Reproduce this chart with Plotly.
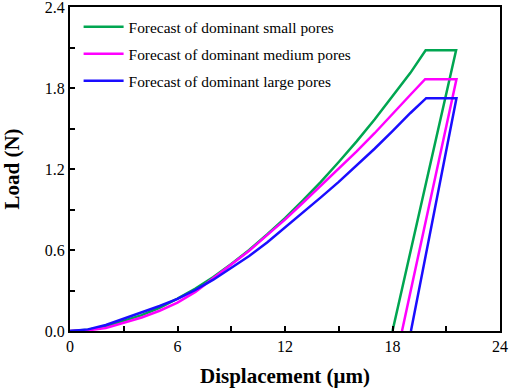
import plotly.graph_objects as go

# Loading branch (displacement in µm, load in N)
disp_load = [0, 1, 2, 3, 4, 5, 6, 7, 8, 9, 10, 11, 12, 13, 14, 15, 16, 17, 18, 19]
small_load = [0, 0.009, 0.033, 0.075, 0.118, 0.172, 0.24, 0.315, 0.40, 0.497, 0.60, 0.715, 0.836, 0.967, 1.105, 1.252, 1.405, 1.567, 1.735, 1.912]
medium_load = [0, 0.005, 0.022, 0.062, 0.10, 0.15, 0.21, 0.29, 0.39, 0.49, 0.595, 0.71, 0.825, 0.95, 1.075, 1.20, 1.33, 1.465, 1.61, 1.75]
large_load = [0, 0.012, 0.045, 0.092, 0.135, 0.185, 0.238, 0.305, 0.38, 0.465, 0.555, 0.655, 0.765, 0.875, 0.99, 1.105, 1.225, 1.35, 1.48, 1.615]

# Peak (start of hold), end of hold, residual displacement after unloading
small_peak = (19.85, 2.08)
medium_peak = (19.82, 1.865)
large_peak = (19.88, 1.725)
hold_end_disp = [21.55, 21.57, 21.57]
residual_disp = [18.0, 18.53, 19.03]

names = ["Forecast of dominant small pores",
         "Forecast of dominant medium pores",
         "Forecast of dominant large pores"]
colors = ["#00a651", "#ff00ff", "#1a0dff"]

fig = go.Figure()
series = [(small_load, small_peak), (medium_load, medium_peak), (large_load, large_peak)]
for i, (loads, peak) in enumerate(series):
    x = disp_load + [peak[0], hold_end_disp[i], residual_disp[i]]
    y = loads + [peak[1], peak[1], 0]
    fig.add_trace(go.Scatter(x=x, y=y, mode="lines", name=names[i],
                             line=dict(color=colors[i], width=2.5),
                             legendgroup=str(i)))

font_family = "Liberation Serif"
axis_common = dict(showgrid=False, zeroline=False, showline=True, linecolor="black", linewidth=2,
                   mirror=True, ticks="inside", ticklen=5, tickwidth=1.5, tickcolor="black",
                   automargin=False, ticklabeloverflow="allow",
                   tickfont=dict(family=font_family, size=16, color="black"))

fig.update_layout(
    width=510, height=389,
    margin=dict(l=70, r=10, t=7, b=58),
    paper_bgcolor="white", plot_bgcolor="white",
    xaxis=dict(range=[0, 24], tickvals=[0, 6, 12, 18, 24],
               minor=dict(tickvals=[3, 9, 15, 21], ticks="inside", ticklen=5, tickwidth=1.5, tickcolor="black"),
               title=dict(text="Displacement (μm)", font=dict(family=font_family, size=21, color="black", weight="bold"), standoff=14),
               **axis_common),
    yaxis=dict(range=[0, 2.4], tickvals=[0, 0.6, 1.2, 1.8, 2.4], ticktext=["0.0", "0.6", "1.2", "1.8", "2.4"],
               minor=dict(tickvals=[0.3, 0.9, 1.5, 2.1], ticks="inside", ticklen=5, tickwidth=1.5, tickcolor="black"),
               title=dict(text="Load (N)", font=dict(family=font_family, size=21, color="black", weight="bold"), standoff=20),
               **axis_common),
    legend=dict(x=0.02, y=0.99, xanchor="left", yanchor="top", bgcolor="rgba(0,0,0,0)",
                font=dict(family=font_family, size=15.4, color="black"), tracegroupgap=4, itemwidth=40),
)

fig.write_html("out.html", config={"displayModeBar": False},
               post_script="document.body.style.margin='0';")
